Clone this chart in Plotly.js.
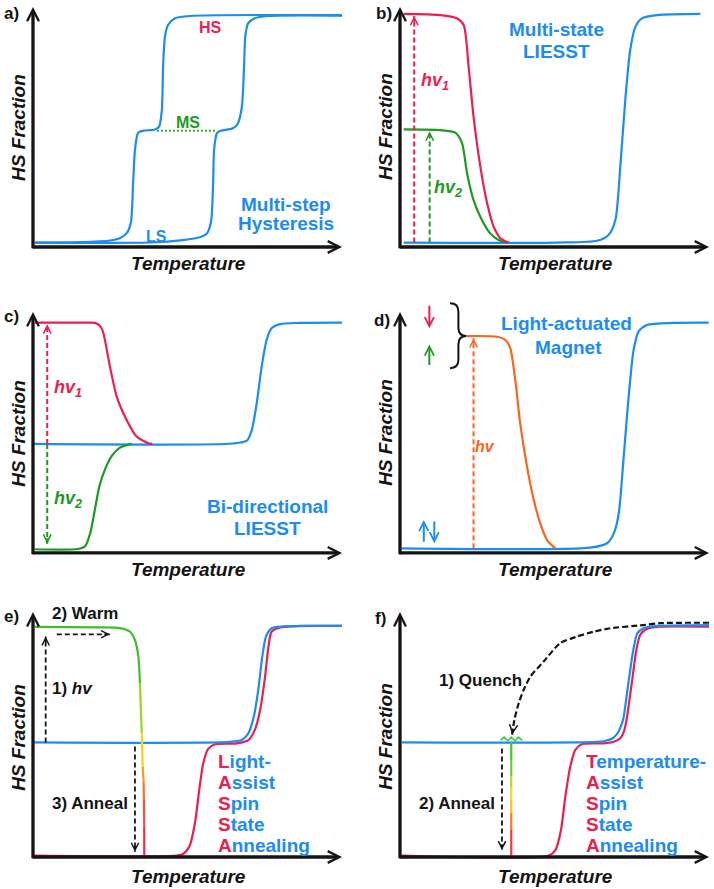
<!DOCTYPE html>
<html>
<head>
<meta charset="utf-8">
<script src="https://cdn.plot.ly/plotly-3.0.1.min.js"></script>
<style>html,body{margin:0;padding:0;background:#fff;}#chart{width:714px;height:889px;}</style>
</head>
<body>
<div id="chart"></div>
<script>
// ===== Data (x = temperature 0-100, y = HS fraction) =====
// a) Multi-step hysteresis
const aBranch1X = [0.6, 15, 24.9, 28.2, 30.4, 31.7, 32.4, 33.0, 34.0, 35.6, 39.5, 40.8, 41.7, 42.1, 42.7, 43.7, 46.0, 50.8, 100];
const aBranch1Y = [0.019, 0.021, 0.028, 0.039, 0.061, 0.108, 0.277, 0.42, 0.494, 0.503, 0.509, 0.521, 0.593, 0.781, 0.91, 0.961, 0.99, 1.0, 1.004];
const aBranch2X = [0.6, 37.9, 48.5, 54.0, 56.3, 57.6, 58.3, 58.6, 59.5, 60.5, 64.7, 66.3, 67.6, 68.3, 68.7, 69.6, 71.8, 75.7, 100];
const aBranch2Y = [0.019, 0.0195, 0.030, 0.042, 0.059, 0.108, 0.277, 0.42, 0.492, 0.502, 0.514, 0.535, 0.607, 0.781, 0.91, 0.968, 0.99, 1.0, 1.002];
const aMsX = [40.1, 59.5];
const aMsY = [0.503, 0.503];

// b) Multi-state LIESST
const bRedX = [1.2, 13.0, 18.4, 20.6, 22.2, 23.8, 26.0, 28.2, 30.3, 32.5, 35.2];
const bRedY = [1.009, 1.004, 0.990, 0.961, 0.781, 0.564, 0.348, 0.189, 0.088, 0.038, 0.019];
const bGreenX = [1.2, 13.0, 17.9, 20.1, 21.7, 23.8, 26.5, 29.2, 31.9, 34.6];
const bGreenY = [0.509, 0.506, 0.495, 0.449, 0.319, 0.203, 0.117, 0.059, 0.030, 0.019];
const bBlueX = [1.2, 50.8, 63.8, 67.5, 69.7, 71.3, 72.9, 74.5, 76.2, 78.3, 83.2, 97.2];
const bBlueY = [0.019, 0.019, 0.027, 0.052, 0.117, 0.348, 0.636, 0.853, 0.954, 0.990, 1.004, 1.009];

// c) Bi-directional LIESST
const cRedX = [0.6, 16.3, 20.1, 22.0, 22.8, 24.9, 27.1, 30.3, 33.6, 37.3, 38.6];
const cRedY = [0.997, 0.997, 0.996, 0.978, 0.951, 0.807, 0.677, 0.576, 0.503, 0.475, 0.472];
const cGreenX = [0.6, 14.5, 16.9, 18.6, 20.2, 21.5, 23.4, 25.5, 28.0, 30.5, 32.0];
const cGreenY = [0.016, 0.017, 0.03, 0.09, 0.2, 0.29, 0.365, 0.42, 0.455, 0.468, 0.472];
const cBlueX = [0, 64.8, 69.2, 70.8, 72.4, 74.0, 75.6, 77.2, 79.9, 86.4, 100];
const cBlueY = [0.472, 0.474, 0.486, 0.532, 0.648, 0.807, 0.922, 0.973, 0.991, 0.996, 0.997];

// d) Light-actuated magnet
const dOrangeX = [21.6, 31.4, 34.1, 35.7, 37.3, 38.9, 41.1, 43.3, 45.4, 47.6, 50.3];
const dOrangeY = [0.939, 0.936, 0.922, 0.886, 0.749, 0.561, 0.374, 0.229, 0.128, 0.056, 0.020];
const dBlueX = [0.6, 61.6, 67.0, 69.2, 70.8, 72.4, 74.0, 75.6, 77.2, 79.9, 88.6, 99.9];
const dBlueY = [0.020, 0.023, 0.042, 0.085, 0.172, 0.417, 0.677, 0.879, 0.958, 0.987, 0.996, 0.997];

// e) Light-assisted spin state annealing
const eWarmX = [0.6, 21.7, 28.2, 31.4, 33.0, 34.1, 34.6, 35.2, 35.5, 35.8, 35.9, 36.0, 36.0];
const eWarmY = [0.996, 0.994, 0.991, 0.975, 0.939, 0.867, 0.752, 0.535, 0.391, 0.32, 0.247, 0.13, 0.004];
const eRedX = [0, 46.5, 48.6, 50.6, 52.4, 53.8, 55.1, 56.7, 58.9, 65.9, 69.7, 71.8, 73.5, 75.1, 76.2, 77.2, 79.9, 86.4, 100];
const eRedY = [0.006, 0.006, 0.013, 0.045, 0.146, 0.290, 0.406, 0.468, 0.488, 0.492, 0.506, 0.550, 0.636, 0.781, 0.910, 0.975, 0.994, 1.0, 1.0];
const eBlueX = [0, 63.8, 67.5, 69.7, 71.5, 72.9, 74.2, 75.4, 77.2, 81.0, 100];
const eBlueY = [0.496, 0.498, 0.506, 0.535, 0.61, 0.723, 0.867, 0.954, 0.990, 0.998, 1.0];

// f) Temperature-assisted spin state annealing
const fRedX = [0.6, 48.1, 50.3, 52.1, 53.5, 55.1, 56.7, 58.9, 65.9, 69.1, 71.3, 72.5, 73.4, 75.0, 76.5, 77.7, 79.6, 84.1, 100];
const fRedY = [0.006, 0.006, 0.030, 0.117, 0.261, 0.391, 0.463, 0.489, 0.492, 0.499, 0.514, 0.545, 0.600, 0.752, 0.896, 0.961, 0.986, 0.997, 0.997];
const fBlueX = [0.6, 63.8, 66.6, 69.0, 70.6, 71.6, 72.3, 73.9, 75.5, 76.8, 78.8, 83.5, 100];
const fBlueY = [0.496, 0.498, 0.503, 0.515, 0.54, 0.57, 0.600, 0.752, 0.896, 0.968, 0.990, 1.0, 1.004];
const fQuenchX = [100, 84.1, 78.8, 68.0, 62.6, 57.2, 51.8, 46.5, 42.2, 40.0, 38.4, 37.0, 36.3];
const fQuenchY = [1.014, 1.012, 1.004, 0.990, 0.975, 0.954, 0.925, 0.846, 0.781, 0.723, 0.665, 0.593, 0.53];
const fAnnealX = [36.0, 36.0, 36.0, 36.0, 36.0, 36.0, 36.0, 36.0];
const fAnnealY = [0.496, 0.42, 0.35, 0.30, 0.25, 0.19, 0.12, 0.006];
const fZigX = [32.5, 33.7, 34.9, 36.0, 37.2, 38.4, 39.5];
const fZigY = [0.505, 0.519, 0.503, 0.519, 0.503, 0.519, 0.505];

// Text
const panelLetters = ['a)', 'b)', 'c)', 'd)', 'e)', 'f)'];
const xTitle = 'Temperature';
const yTitle = 'HS Fraction';

// ===== Styling / layout =====
const FONT = '"Liberation Sans", Arial, Helvetica, sans-serif';
const BLUE = '#1b8cf2', RED = '#ef1c4f', GREEN = '#1e9a22', MSGREEN = '#2aa52a', ORANGE = '#f7661c', INK = '#141414';
const LW = 2.2;
const COLS = [[0.03756, 0.48332], [0.55157, 0.99732]];
const ROWS = [
  {d: [0.71436, 0.99499], r: [-0.03, 1.05], tip: 1.039, tShift: -16.5},
  {d: [0.37020, 0.66380], r: [-0.03, 1.10], tip: 1.043, tShift: -16.5},
  {d: [0.02820, 0.31406], r: [-0.03, 1.07], tip: 1.06, tShift: -19}
];
const PXX = 3.09, PXY = 231;
const letterPos = [[11.7, 13.3], [383.7, 13.3], [11.7, 316.7], [382, 320], [11.7, 616.7], [380.3, 618.3]];

const traces = [], ann = [], shapes = [];
const layout = {
  width: 714, height: 889, margin: {l: 0, r: 0, t: 0, b: 0},
  paper_bgcolor: '#fff', plot_bgcolor: 'rgba(0,0,0,0)', showlegend: false,
  font: {family: FONT, color: INK}
};
const sfx = p => (p === 1 ? '' : String(p));

function addLine(p, xs, ys, color, width, extra) {
  traces.push(Object.assign({
    x: xs, y: ys, type: 'scatter', mode: 'lines', xaxis: 'x' + sfx(p), yaxis: 'y' + sfx(p),
    line: Object.assign({color: color, width: width || LW, shape: 'spline', smoothing: 0.7}, extra || {}),
    hoverinfo: 'skip', showlegend: false
  }));
}
function hexToRgb(h) { return [1, 3, 5].map(i => parseInt(h.substr(i, 2), 16)); }
function colorAt(y, stops) {
  for (let i = 0; i < stops.length - 1; i++) {
    const [y0, c0] = stops[i], [y1, c1] = stops[i + 1];
    if (y <= y0 && y >= y1) {
      const t = (y0 - y) / (y0 - y1), a = hexToRgb(c0), b = hexToRgb(c1);
      return 'rgb(' + a.map((v, k) => Math.round(v + (b[k] - v) * t)).join(',') + ')';
    }
  }
  return y > stops[0][0] ? stops[0][1] : stops[stops.length - 1][1];
}
function gradLine(p, xs, ys, stops, from) {
  for (let i = from; i < xs.length - 1; i++) {
    addLine(p, [xs[i], xs[i + 1]], [ys[i], ys[i + 1]], colorAt((ys[i] + ys[i + 1]) / 2, stops), LW, {shape: 'linear'});
  }
}
function head(p, x1, y1, dxp, dyp, color, width, size) {
  const L = Math.hypot(dxp, dyp) || 1;
  ann.push({xref: 'x' + sfx(p), yref: 'y' + sfx(p), x: x1, y: y1, ax: -dxp / L * 7, ay: -dyp / L * 7,
    text: '', showarrow: true, arrowhead: 5, arrowsize: size, arrowwidth: width, arrowcolor: color, standoff: 0});
}
function dashArrow(p, x0, y0, x1, y1, color, width, dash, size) {
  addLine(p, [x0, x1], [y0, y1], color, width, {dash: dash, shape: 'linear'});
  head(p, x1, y1, (x1 - x0) * PXX, -(y1 - y0) * PXY, color, width, size);
}
function solidArrow(p, x0, y0, x1, y1, color, width, size) {
  ann.push({xref: 'x' + sfx(p), yref: 'y' + sfx(p), axref: 'x' + sfx(p), ayref: 'y' + sfx(p),
    x: x1, y: y1, ax: x0, ay: y0, text: '', showarrow: true, arrowhead: 5,
    arrowsize: size, arrowwidth: width, arrowcolor: color, standoff: 0});
}
function label(p, x, y, text, size, color, o) {
  ann.push(Object.assign({xref: 'x' + sfx(p), yref: 'y' + sfx(p), x: x, y: y, text: text, showarrow: false,
    font: {family: FONT, size: size, color: color}}, o || {}));
}

// axes, arrows, titles
for (let p = 1; p <= 6; p++) {
  const c = (p - 1) % 2, r = Math.floor((p - 1) / 2), s = sfx(p);
  layout['xaxis' + s] = {domain: COLS[c], range: [-2, 101], visible: false, fixedrange: true, anchor: 'y' + s};
  layout['yaxis' + s] = {domain: ROWS[r].d, range: ROWS[r].r, visible: false, fixedrange: true, anchor: 'x' + s};
  solidArrow(p, 0, -0.012, 0, ROWS[r].tip, INK, 3.3, 0.7);
  solidArrow(p, -0.6, 0, 100, 0, INK, 3.3, 0.7);
  label(p, 50.4, 0, '<b><i>' + xTitle + '</i></b>', 19, INK, {yshift: ROWS[r].tShift});
  label(p, 0, 0.52, '<b><i>' + yTitle + '</i></b>', 19, INK, {textangle: -90, xshift: -14});
  ann.push({xref: 'paper', yref: 'paper', x: letterPos[p - 1][0] / 714, y: 1 - letterPos[p - 1][1] / 889,
    xanchor: 'center', yanchor: 'middle',
    text: '<b>' + panelLetters[p - 1] + '</b>', showarrow: false, font: {family: FONT, size: 17, color: INK}});
}

// ---- a ----
addLine(1, aMsX, aMsY, MSGREEN, 2, {dash: '2px,2px', shape: 'linear'});
addLine(1, aBranch1X, aBranch1Y, BLUE);
addLine(1, aBranch2X, aBranch2Y, BLUE);
label(1, 57.6, 0.951, '<b>HS</b>', 16, RED);
label(1, 50.3, 0.538, '<b>MS</b>', 16, GREEN);
label(1, 40.0, 0.047, '<b>LS</b>', 16, BLUE);
label(1, 81.8, 0.186, '<b>Multi-step</b>', 19, BLUE);
label(1, 81.8, 0.0996, '<b>Hysteresis</b>', 19, BLUE);

// ---- b ----
addLine(2, bBlueX, bBlueY, BLUE);
addLine(2, bGreenX, bGreenY, GREEN);
addLine(2, bRedX, bRedY, RED);
dashArrow(2, 4.6, 0.019, 4.6, 1.0, RED, 2, '5px,3px', 0.75);
dashArrow(2, 9.6, 0.019, 9.6, 0.50, GREEN, 2, '5px,3px', 0.75);
label(2, 11.4, 0.716, '<b><i>hv<sub>1</sub></i></b>', 18, RED);
label(2, 15.5, 0.254, '<b><i>hv<sub>2</sub></i></b>', 18, GREEN);
label(2, 50.8, 0.942, '<b>Multi-state</b>', 19, BLUE);
label(2, 50.8, 0.845, '<b>LIESST</b>', 19, BLUE);

// ---- c ----
addLine(3, cBlueX, cBlueY, BLUE);
addLine(3, cGreenX, cGreenY, GREEN);
addLine(3, cRedX, cRedY, RED);
dashArrow(3, 4.6, 0.472, 4.6, 0.99, RED, 2, '5px,3px', 0.75);
dashArrow(3, 4.6, 0.472, 4.6, 0.04, GREEN, 2, '5px,3px', 0.75);
label(3, 11.4, 0.713, '<b><i>hv<sub>1</sub></i></b>', 18, RED);
label(3, 11.2, 0.232, '<b><i>hv<sub>2</sub></i></b>', 18, GREEN);
label(3, 75.9, 0.203, '<b>Bi-directional</b>', 19, BLUE);
label(3, 75.9, 0.107, '<b>LIESST</b>', 19, BLUE);

// ---- d ----
addLine(4, dBlueX, dBlueY, BLUE);
addLine(4, dOrangeX, dOrangeY, ORANGE);
dashArrow(4, 23.8, 0.02, 23.8, 0.93, ORANGE, 2, '5px,3px', 0.75);
label(4, 27.6, 0.463, '<b><i>hv</i></b>', 16, ORANGE);
label(4, 53.8, 0.994, '<b>Light-actuated</b>', 19, BLUE);
label(4, 54.4, 0.890, '<b>Magnet</b>', 19, BLUE);
solidArrow(4, 9.5, 1.077, 9.5, 0.973, RED, 2, 0.9);
solidArrow(4, 9.5, 0.807, 9.5, 0.903, GREEN, 2, 0.9);
solidArrow(4, 7.7, 0.042, 7.7, 0.143, BLUE, 2, 0.9);
solidArrow(4, 11.1, 0.143, 11.1, 0.042, BLUE, 2, 0.9);
shapes.push({type: 'path', xref: 'x4', yref: 'y4', layer: 'above',
  path: 'M 16.2,1.081 Q 18.9,1.081 18.9,1.045 L 18.9,0.975 Q 18.9,0.939 21.5,0.939 Q 18.9,0.939 18.9,0.903 L 18.9,0.836 Q 18.9,0.800 16.2,0.800',
  line: {color: INK, width: 2}});

// ---- e ----
const eStops = [[1.0, '#2eb82e'], [0.75, '#5cc22b'], [0.6, '#b5d924'], [0.5, '#f5e11c'], [0.4, '#ffb01c'], [0.28, '#ff7026'], [0.15, '#ff3a45'], [0.0, '#f2184f']];
addLine(5, eRedX, eRedY, RED);
addLine(5, eBlueX, eBlueY, BLUE);
addLine(5, eWarmX.slice(0, 7), eWarmY.slice(0, 7), colorAt(0.9, eStops));
gradLine(5, eWarmX, eWarmY, eStops, 6);
dashArrow(5, 4.1, 0.496, 4.1, 0.954, INK, 1.8, '5px,3px', 0.8);
dashArrow(5, 7.7, 0.964, 24.9, 0.964, INK, 1.8, '5px,3px', 0.8);
dashArrow(5, 33.0, 0.478, 33.0, 0.023, INK, 1.8, '5px,3px', 0.8);
label(5, 5.5, 1.052, '<b>2) Warm</b>', 17, INK, {xanchor: 'left'});
label(5, 5.5, 0.730, '<b>1) <i>hv</i></b>', 17, INK, {xanchor: 'left'});
label(5, 5.5, 0.232, '<b>3) Anneal</b>', 17, INK, {xanchor: 'left'});
const lassa = [['L', 'ight-'], ['A', 'ssist'], ['S', 'pin'], ['S', 'tate'], ['A', 'nnealing']];
const tassa = [['T', 'emperature-'], ['A', 'ssist'], ['S', 'pin'], ['S', 'tate'], ['A', 'nnealing']];
const acroY = [0.413, 0.322, 0.232, 0.139, 0.048];
lassa.forEach((w, i) => label(5, 59.2, acroY[i], '<b><span style="color:' + RED + '">' + w[0] + '</span>' + w[1] + '</b>', 19, BLUE, {xanchor: 'left'}));

// ---- f ----
const fStops = [[0.5, '#2ec42e'], [0.36, '#7ccf2a'], [0.3, '#d8df1e'], [0.25, '#ffe11a'], [0.19, '#ffa01c'], [0.13, '#ff5a33'], [0.0, '#f2184f']];
addLine(6, fRedX, fRedY, RED);
addLine(6, fBlueX, fBlueY, BLUE);
gradLine(6, fAnnealX, fAnnealY, fStops, 0);
addLine(6, fZigX, fZigY, '#3ccf3c', 1.6, {shape: 'linear'});
addLine(6, fQuenchX, fQuenchY, INK, 2.2, {dash: '6px,3px'});
{
  const n = fQuenchX.length;
  head(6, fQuenchX[n - 1], fQuenchY[n - 1], (fQuenchX[n - 1] - fQuenchX[n - 2]) * PXX, -(fQuenchY[n - 1] - fQuenchY[n - 2]) * PXY, INK, 2, 0.8);
}
dashArrow(6, 33.0, 0.470, 33.0, 0.030, INK, 1.8, '5px,3px', 0.8);
label(6, 12.0, 0.766, '<b>1) Quench</b>', 17, INK, {xanchor: 'left'});
label(6, 5.5, 0.232, '<b>2) Anneal</b>', 17, INK, {xanchor: 'left'});
tassa.forEach((w, i) => label(6, 59.4, acroY[i], '<b><span style="color:' + RED + '">' + w[0] + '</span>' + w[1] + '</b>', 19, BLUE, {xanchor: 'left'}));

layout.annotations = ann;
layout.shapes = shapes;
Plotly.newPlot('chart', traces, layout, {displayModeBar: false, staticPlot: true});
</script>
</body>
</html>
